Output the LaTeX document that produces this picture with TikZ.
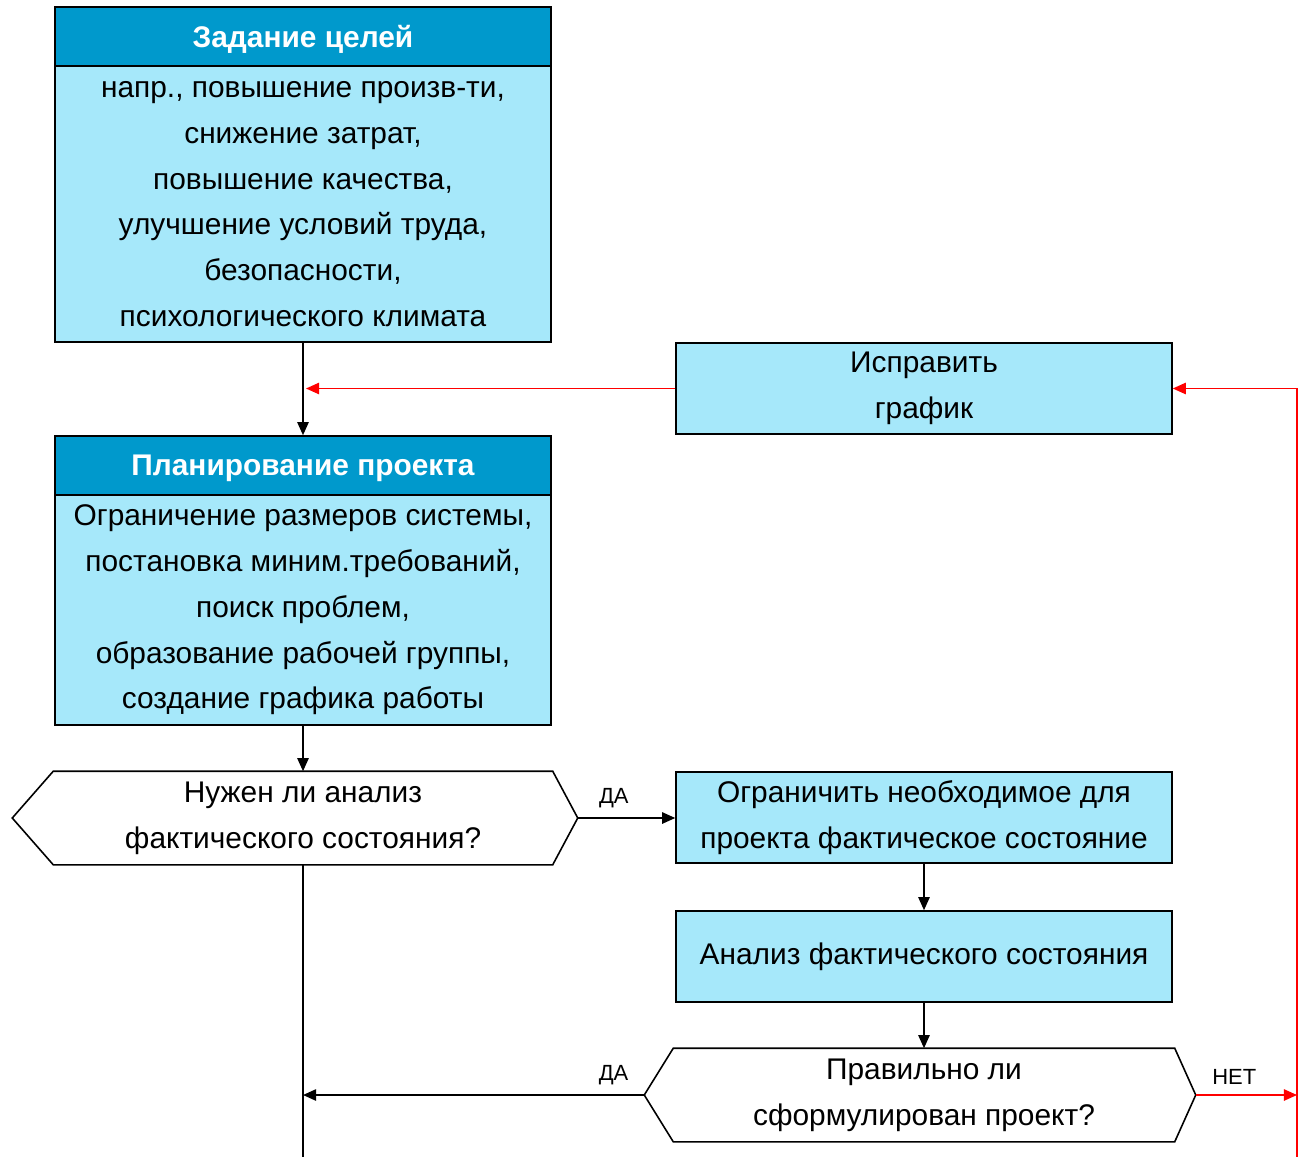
\documentclass[tikz,border=0pt]{standalone}
\usepackage{fontspec}
\setmainfont{Liberation Sans}
\usetikzlibrary{arrows.meta,calc,positioning}
\definecolor{headblue}{RGB}{0,153,204}
\definecolor{bodyblue}{RGB}{166,232,250}

\begin{document}
\begin{tikzpicture}
[
	            x = 0.02cm,
	            y = -0.02cm,
	           ->, >= {Triangle[length=7.5pt,width=6.5pt]},
	   line width = 0.9pt,
	  headbox/.style = { draw=black, fill=headblue, text=white, font=\fontsize{17}{26}\selectfont\bfseries,
	                     minimum width=9.92cm, minimum height=1.2cm, inner sep=0pt, text depth=0.5pt },
	  bodybox/.style = { draw=black, fill=bodyblue, align=center, font=\fontsize{17}{26}\selectfont,
	                     minimum width=9.92cm, minimum height=1.82cm, inner sep=1pt },
	 decision/.style = { draw=none, align=center, font=\fontsize{17}{26}\selectfont,
	                     minimum height=1.84cm, inner sep=1pt },
	   answer/.style = { draw=none, fill=none, font=\fontsize{12.5}{15}\selectfont, text=black, above, inner sep=5.5pt }
]
	\useasboundingbox (0,0) rectangle (1303,1157);

	\node (goalhead) at (303,37)    [headbox] {Задание целей};
	\node (goalbody) at (303,204)   [bodybox, minimum height=5.52cm]
		{напр., повышение произв-ти,\\ снижение затрат,\\ повышение качества,\\
		 улучшение условий труда,\\ безопасности,\\ психологического климата};
	\node (planhead) at (303,466)   [headbox] {Планирование проекта};
	\node (planbody) at (303,610)   [bodybox, minimum height=4.6cm]
		{Ограничение размеров системы,\\ постановка миним.требований,\\ поиск проблем,\\
		 образование рабочей группы,\\ создание графика работы};
	\node (fix)      at (924,388.5) [bodybox] {Исправить\\ график};
	\node (ask)      at (303,818)   [decision, minimum width=9.96cm] {Нужен ли анализ\\ фактического состояния?};
	\node (limit)    at (924,817.5) [bodybox] {Ограничить необходимое для\\ проекта фактическое состояние};
	\node (anal)     at (924,956.5) [bodybox] {Анализ фактического состояния};
	\node (check)    at (924,1095)  [decision, minimum width=10cm] {Правильно ли\\ сформулирован проект?};

	\coordinate (askl)   at ([xshift=-0.82cm]ask.west);
	\coordinate (askr)   at ([xshift=0.5cm]ask.east);
	\coordinate (checkl) at ([xshift=-0.58cm]check.west);
	\coordinate (checkr) at ([xshift=0.42cm]check.east);
	\coordinate (downend) at (303,1157);
	\coordinate (redend)  at (1297,1157);

	\draw [-] (ask.north west) -- (ask.north east) -- (askr) -- (ask.south east) -- (ask.south west) -- (askl) -- cycle;
	\draw [-] (check.north west) -- (check.north east) -- (checkr) -- (check.south east) -- (check.south west) -- (checkl) -- cycle;

	\draw (goalbody) -- (planhead);
	\draw (planbody) -- (ask);
	\draw (askr) -- node [answer, pos=0.37] {ДА} (askr -| limit.west);
	\draw (limit) -- (anal);
	\draw (anal.south) -- (anal.south |- check.north);
	\draw [-] (ask.south) -- (downend);
	\draw (checkl) -- node [answer, pos=0.09] {ДА} (checkl -| ask.south);

	\draw [red] (checkr) -- node [answer, pos=0.38] {НЕТ} (checkr -| redend);
	\draw [red] (redend) |- (fix.east);
	\draw [red] (fix.west) -- ([xshift=0.06cm]fix.west -| planhead.north);

\end{tikzpicture}
\end{document}
